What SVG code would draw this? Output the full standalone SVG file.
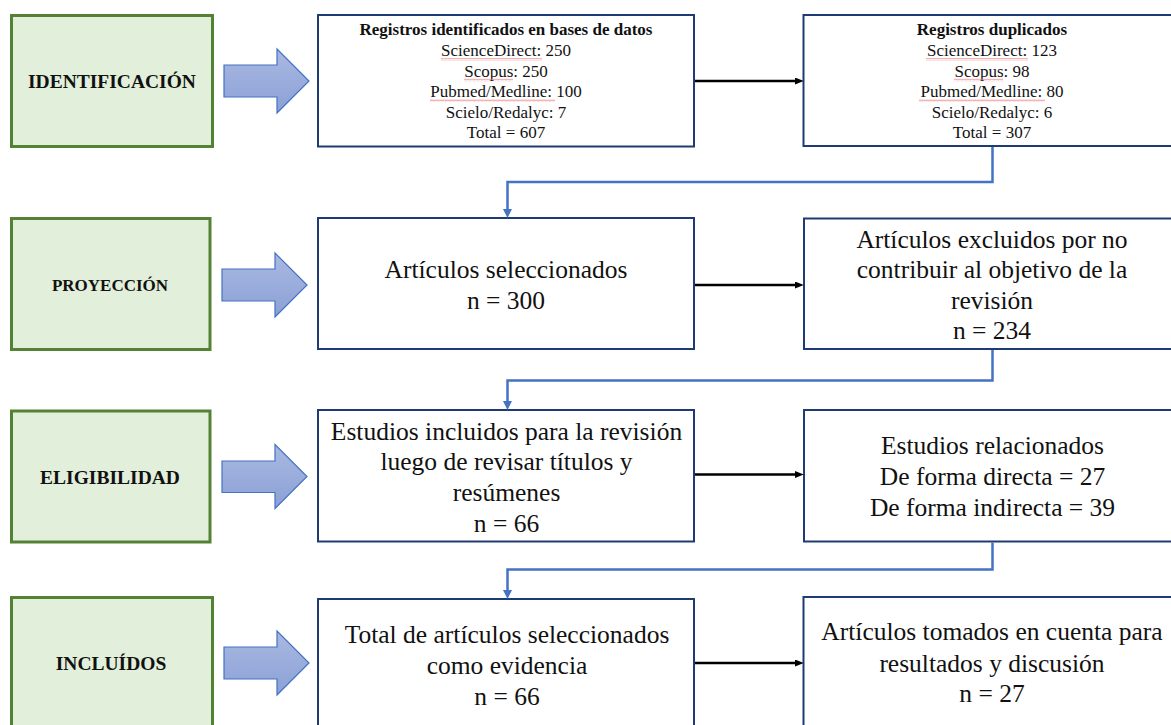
<svg xmlns="http://www.w3.org/2000/svg" width="1171" height="725" viewBox="0 0 1171 725">
<style>
  .phase { fill: #e2efda; stroke: #548235; stroke-width: 3; }
  .phase-label { font-family: "Liberation Serif", "Times New Roman", serif; font-weight: bold; fill: #111; text-anchor: middle; }
  .box { fill: #ffffff; stroke: #1f3b73; stroke-width: 2; }
  .t17 { font-family: "Liberation Serif", "Times New Roman", serif; font-size: 17px; fill: #111; text-anchor: middle; }
  .t25 { font-family: "Liberation Serif", "Times New Roman", serif; font-size: 25.5px; fill: #111; text-anchor: middle; }
  .bold { font-weight: bold; }
  .block { fill: url(#blockGrad); stroke: #4472c4; stroke-width: 1.2; }
  .flow { fill: none; stroke: #000; stroke-width: 2.5; marker-end: url(#blackHead); }
  .elbow { fill: none; stroke: #4472c4; stroke-width: 2.5; marker-end: url(#blueHead); }
  .squig { fill: url(#squiggle); }
</style>
<defs>
  <linearGradient id="blockGrad" x1="0" y1="0" x2="0" y2="1">
    <stop offset="0" stop-color="#aab9e1"/>
    <stop offset="1" stop-color="#8aa0d6"/>
  </linearGradient>
  <marker id="blackHead" viewBox="0 0 10 8" refX="0" refY="4" markerWidth="9" markerHeight="7" markerUnits="userSpaceOnUse" orient="auto">
    <path d="M0,0 L10,4 L0,8 Z" fill="#000"/>
  </marker>
  <marker id="blueHead" viewBox="0 0 10 10" refX="0" refY="5" markerWidth="9" markerHeight="9" markerUnits="userSpaceOnUse" orient="auto">
    <path d="M0,0 L10,5 L0,10 Z" fill="#4472c4"/>
  </marker>
  <pattern id="squiggle" x="0" y="0" width="4" height="3" patternUnits="userSpaceOnUse">
    <path d="M0,2.4 L1,0.6 L2,2.4 L3,0.6 L4,2.4" fill="none" stroke="#ec8080" stroke-width="0.6"/>
  </pattern>
</defs>

<!-- Phase labels -->
<g id="phase-identificacion">
  <rect class="phase" x="11.5" y="15.5" width="201" height="131"/>
  <text class="phase-label" x="112" y="88" font-size="19.5">IDENTIFICACIÓN</text>
</g>
<g id="phase-proyeccion">
  <rect class="phase" x="11.5" y="218.5" width="198.5" height="131"/>
  <text class="phase-label" x="110" y="291" font-size="17">PROYECCIÓN</text>
</g>
<g id="phase-eligibilidad">
  <rect class="phase" x="11.5" y="411" width="198.5" height="131"/>
  <text class="phase-label" x="110" y="484" font-size="19.5">ELIGIBILIDAD</text>
</g>
<g id="phase-incluidos">
  <rect class="phase" x="11.5" y="597.5" width="201" height="140"/>
  <text class="phase-label" x="111" y="670" font-size="19.5">INCLUÍDOS</text>
</g>

<!-- Block arrows -->
<g id="block-arrows">
  <polygon class="block" points="224,65 277,65 277,49 309,81 277,113 277,97 224,97"/>
  <polygon class="block" points="222,269 275,269 275,253 307,285 275,317 275,301 222,301"/>
  <polygon class="block" points="222,461 275,461 275,444.5 307,476.5 275,508.5 275,492.5 222,492.5"/>
  <polygon class="block" points="224,647 277,647 277,631 309,663 277,695 277,679 224,679"/>
</g>

<!-- Row 1 -->
<g id="node-registros-identificados">
  <rect class="box" x="318" y="15" width="376" height="131.5"/>
  <text class="t17 bold" x="506" y="35">Registros identificados en bases de datos</text>
  <text class="t17" x="506" y="56">ScienceDirect: 250</text>
  <text class="t17" x="506" y="76.5">Scopus: 250</text>
  <text class="t17" x="506" y="97">Pubmed/Medline: 100</text>
  <text class="t17" x="506" y="117.5">Scielo/Redalyc: 7</text>
  <text class="t17" x="506" y="138">Total = 607</text>
  <rect class="squig" x="441" y="58" width="101" height="3"/>
  <rect class="squig" x="464" y="78.5" width="49" height="3"/>
  <rect class="squig" x="430" y="99" width="125" height="3"/>
</g>
<g id="node-registros-duplicados">
  <rect class="box" x="803.5" y="15" width="376" height="131"/>
  <text class="t17 bold" x="992" y="35">Registros duplicados</text>
  <text class="t17" x="992" y="56">ScienceDirect: 123</text>
  <text class="t17" x="992" y="76.5">Scopus: 98</text>
  <text class="t17" x="992" y="97">Pubmed/Medline: 80</text>
  <text class="t17" x="992" y="117.5">Scielo/Redalyc: 6</text>
  <text class="t17" x="992" y="138">Total = 307</text>
  <rect class="squig" x="926" y="58" width="102" height="3"/>
  <rect class="squig" x="954" y="78.5" width="49" height="3"/>
  <rect class="squig" x="919" y="99" width="126" height="3"/>
</g>

<!-- Row 2 -->
<g id="node-articulos-seleccionados">
  <rect class="box" x="318" y="218" width="376" height="131"/>
  <text class="t25" x="506" y="278">Artículos seleccionados</text>
  <text class="t25" x="506" y="308.5">n = 300</text>
</g>
<g id="node-articulos-excluidos">
  <rect class="box" x="804" y="218.5" width="376" height="130.5"/>
  <text class="t25" x="992" y="247.5">Artículos excluidos por no</text>
  <text class="t25" x="992" y="278">contribuir al objetivo de la</text>
  <text class="t25" x="992" y="308.5">revisión</text>
  <text class="t25" x="992" y="339">n = 234</text>
</g>

<!-- Row 3 -->
<g id="node-estudios-incluidos">
  <rect class="box" x="318" y="410" width="376" height="131.5"/>
  <text class="t25" x="506.5" y="439.5">Estudios incluidos para la revisión</text>
  <text class="t25" x="506.5" y="470">luego de revisar títulos y</text>
  <text class="t25" x="506.5" y="500.5">resúmenes</text>
  <text class="t25" x="506.5" y="531.5">n = 66</text>
</g>
<g id="node-estudios-relacionados">
  <rect class="box" x="804" y="410" width="376" height="131.5"/>
  <text class="t25" x="992.5" y="453.5">Estudios relacionados</text>
  <text class="t25" x="992.5" y="485">De forma directa = 27</text>
  <text class="t25" x="992.5" y="515.5">De forma indirecta = 39</text>
</g>

<!-- Row 4 -->
<g id="node-total-seleccionados">
  <rect class="box" x="318" y="599" width="376" height="140"/>
  <text class="t25" x="507" y="642.5">Total de artículos seleccionados</text>
  <text class="t25" x="507" y="674">como evidencia</text>
  <text class="t25" x="507" y="705">n = 66</text>
</g>
<g id="node-articulos-tomados">
  <rect class="box" x="803.5" y="597" width="376" height="140"/>
  <text class="t25" x="992" y="640">Artículos tomados en cuenta para</text>
  <text class="t25" x="992" y="671.5">resultados y discusión</text>
  <text class="t25" x="992" y="701.5">n = 27</text>
</g>

<!-- Connectors -->
<g id="connectors">
  <line class="flow" x1="695" y1="81" x2="795" y2="81"/>
  <line class="flow" x1="695" y1="285" x2="795" y2="285"/>
  <line class="flow" x1="695" y1="474.5" x2="795" y2="474.5"/>
  <line class="flow" x1="695" y1="663" x2="795" y2="663"/>
  <path class="elbow" d="M992.5,147 L992.5,182 L507.5,182 L507.5,209"/>
  <path class="elbow" d="M992.5,350 L992.5,380.5 L507.5,380.5 L507.5,401"/>
  <path class="elbow" d="M992.5,542.5 L992.5,569.5 L507.5,569.5 L507.5,590"/>
</g>
</svg>
